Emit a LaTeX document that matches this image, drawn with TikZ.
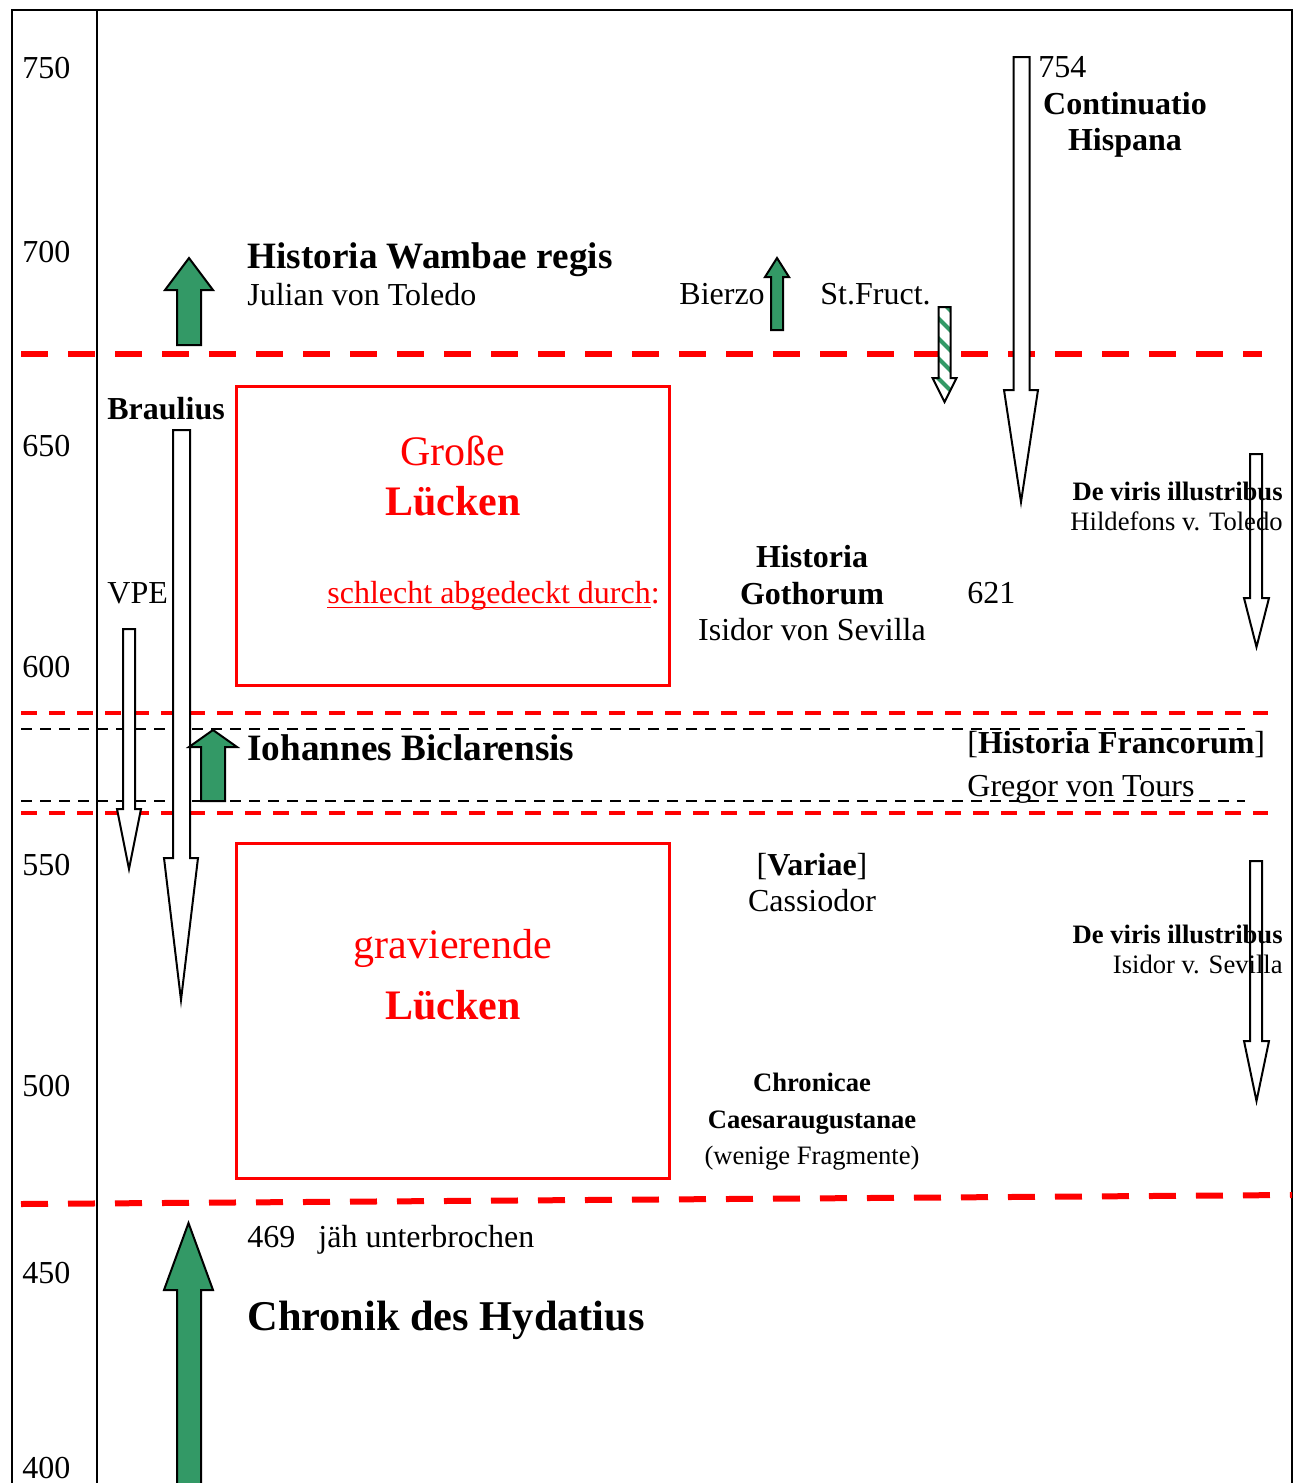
\documentclass[tikz,border=0pt]{standalone}
\usepackage{fontspec}
\setmainfont{Liberation Serif}
\definecolor{arrgreen}{HTML}{339966}
\definecolor{lred}{HTML}{FF0000}
\newcommand\blockarrow[8]{%
  \draw[#1] (#2,#6) -- (#2,#7) -- (#4,#7) -- ({(#4+#5)/2},#8) -- (#5,#7) -- (#3,#7) -- (#3,#6) -- cycle;}
\newcommand\myul[1]{\setbox0\hbox{#1}\rlap{\rule[-2.6pt]{\wd0}{0.8pt}}\box0}
\tikzset{
  reg/.style={inner sep=0pt, font=\fontsize{16}{18}\selectfont},
  regb/.style={inner sep=0pt, font=\fontsize{16}{18}\selectfont\bfseries},
  bigb/.style={inner sep=0pt, font=\fontsize{18.6}{21}\selectfont\bfseries},
  hugeb/.style={inner sep=0pt, font=\fontsize{21.2}{24}\selectfont\bfseries},
  redr/.style={inner sep=0pt, text=lred, font=\fontsize{21}{24}\selectfont},
  redb/.style={inner sep=0pt, text=lred, font=\fontsize{21}{24}\selectfont\bfseries},
  small/.style={inner sep=0pt, font=\fontsize{13.3}{15}\selectfont},
  smallb/.style={inner sep=0pt, font=\fontsize{13.3}{15}\selectfont\bfseries},
  frame/.style={line width=1pt, draw=black},
  thickred/.style={draw=lred, line width=3pt, dash pattern=on 13.5pt off 10pt},
  thinred/.style={draw=lred, line width=2.1pt, dash pattern=on 8pt off 6pt},
  blackdash/.style={draw=black, line width=1.1pt, dash pattern=on 5.5pt off 4pt},
  redbox/.style={draw=lred, line width=1.5pt},
  greenarrow/.style={draw=black, fill=arrgreen, line width=1pt, line join=miter},
  whitearrow/.style={draw=black, fill=white, line width=1pt, line join=miter},
  openarrow/.style={draw=black, line width=1pt, line join=miter},
}
\begin{document}
\begin{tikzpicture}[x=0.5pt,y=-0.5pt]
\useasboundingbox (0,0) rectangle (1293,1483);
\fill[white] (0,0) rectangle (1293,1483);
% frame
\draw[frame] (12,1483) -- (12,10) -- (1292,10) -- (1292,1483);
\draw[frame] (97,10) -- (97,1483);
% dashed lines
\draw[thickred] (21,354) -- (1262,354);
\draw[thinred] (21,713) -- (1268,713);
\draw[blackdash] (21,729) -- (1245,729);
\draw[blackdash] (21,801) -- (1245,801);
\draw[thinred] (21,813) -- (1268,813);
\draw[thickred] (21,1204) -- (1292,1195);
% red boxes
\draw[redbox] (236,386) rectangle (669,685);
\draw[redbox] (236,843) rectangle (669,1178);
% year labels
\node[reg, anchor=base west] (y750) at (22,78) {750};
\node[reg, anchor=base west] (y700) at (22,262) {700};
\node[reg, anchor=base west] (y650) at (22,456) {650};
\node[reg, anchor=base west] (y600) at (22,677) {600};
\node[reg, anchor=base west] (y550) at (22,875) {550};
\node[reg, anchor=base west] (y500) at (22,1096) {500};
\node[reg, anchor=base west] (y450) at (22,1283) {450};
\node[reg, anchor=base west] (y400) at (22,1478) {400};
% arrows
\blockarrow{greenarrow}{177}{201}{165}{213}{345}{290}{258}
\blockarrow{greenarrow}{771}{783}{765}{789}{330}{277}{258}
\blockarrow{whitearrow}{1013.5}{1029.5}{1004}{1038}{57}{390}{502}
\blockarrow{whitearrow}{173}{190}{164}{198}{430}{858}{1000}
\blockarrow{whitearrow}{123}{135}{117}{141}{629}{809}{869}
\blockarrow{greenarrow}{201}{225}{189}{237}{801}{747}{730}
\blockarrow{greenarrow}{177}{201}{164}{213}{1495}{1290}{1223}
% striped arrow
\begin{scope}
\clip (938.5,307) -- (950.5,307) -- (950.5,378) -- (956.5,378) -- (944.5,402) -- (932.5,378) -- (938.5,378) -- cycle;
\fill[white] (920,300) rectangle (970,410);
\foreach \k in {0,...,7} \draw[arrgreen, line width=2pt] (920,280+\k*20) -- ++(40,40);
\end{scope}
\blockarrow{openarrow}{938.5}{950.5}{932.5}{956.5}{307}{378}{402}
% texts
\node[reg, anchor=base west] (t754) at (1038,77) {754};
\node[regb, anchor=base] (cont) at (1125,114) {Continuatio};
\node[regb, anchor=base] (hisp) at (1125,150) {Hispana};
\node[bigb, anchor=base west] (wamb) at (247,268) {Historia Wambae regis};
\node[reg, anchor=base west] (julian) at (247,305) {Julian von Toledo};
\node[reg, anchor=base west] (bierzo) at (679,304) {Bierzo};
\node[reg, anchor=base west] (fruct) at (820,304) {St.Fruct.};
\node[regb, anchor=base west] (braul) at (107,419) {Braulius};
\node[redr, anchor=base] (gross) at (453,465) {Große};
\node[redb, anchor=base] (luck1) at (453,515) {Lücken};
\node[reg, text=lred, anchor=base west] (schl) at (327,603) {\myul{schlecht abgedeckt durch}:};
\node[reg, anchor=base west] (vpe) at (107,603) {VPE};
\node[regb, anchor=base] (hgot1) at (812,567) {Historia};
\node[regb, anchor=base] (hgot2) at (812,604) {Gothorum};
\node[reg, anchor=base] (isid) at (812,640) {Isidor von Sevilla};
\node[reg, anchor=base west] (t621) at (967,603) {621};
\node[smallb, anchor=base east] (dv1) at (1283,500) {De viris illustribus};
\node[small, anchor=base east] (hild) at (1283,530) {Hildefons v. Toledo};
\node[bigb, anchor=base west] (ioh) at (247,760) {Iohannes Biclarensis};
\node[reg, anchor=base west] (hfr) at (967,753) {[\textbf{Historia Francorum}]};
\node[reg, anchor=base west] (greg) at (967,796) {Gregor von Tours};
\node[reg, anchor=base] (var) at (812,875) {[\textbf{Variae}]};
\node[reg, anchor=base] (cass) at (812,911) {Cassiodor};
\node[smallb, anchor=base east] (dv2) at (1283,943) {De viris illustribus};
\node[small, anchor=base east] (isv) at (1283,973) {Isidor v. Sevilla};
\node[redr, anchor=base] (grav) at (453,958) {gravierende};
\node[redb, anchor=base] (luck2) at (453,1019) {Lücken};
\node[smallb, anchor=base] (chr1) at (812,1091) {Chronicae};
\node[smallb, anchor=base] (chr2) at (812,1128) {Caesaraugustanae};
\node[small, anchor=base] (chr3) at (812,1164) {(wenige Fragmente)};
\node[reg, anchor=base west] (t469) at (247,1247) {469};
\node[reg, anchor=base west] (jah) at (318,1247) {jäh unterbrochen};
\node[hugeb, anchor=base west] (hyd) at (247,1330) {Chronik des Hydatius};
% open arrows over text
\blockarrow{openarrow}{1250}{1262}{1244}{1269}{454}{598}{647}
\blockarrow{openarrow}{1250}{1262}{1244}{1269}{861}{1041}{1101}
\end{tikzpicture}
\end{document}
